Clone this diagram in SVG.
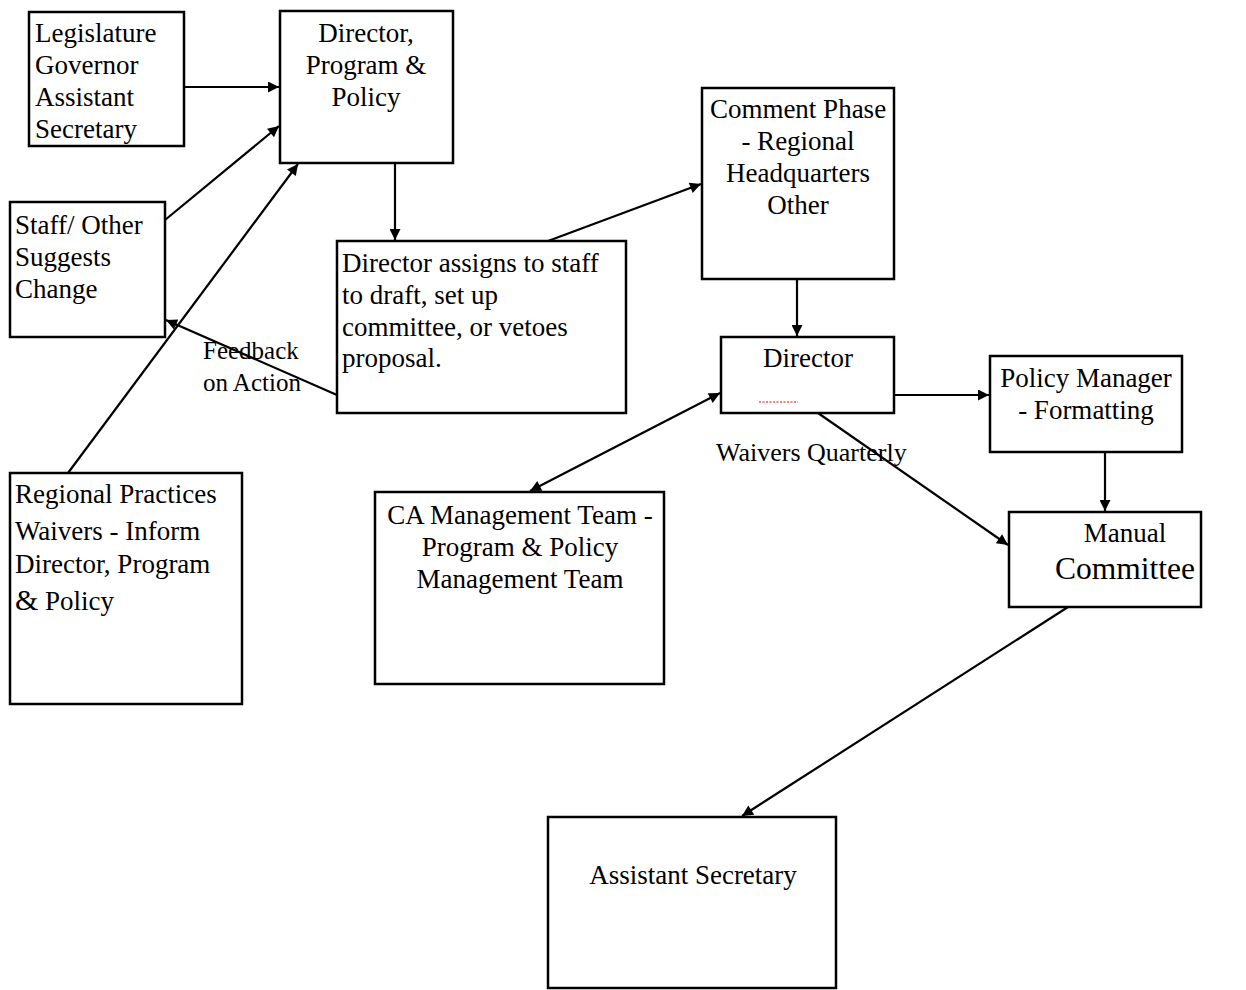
<svg xmlns="http://www.w3.org/2000/svg" width="1246" height="990" viewBox="0 0 1246 990">
<style>
.box{fill:#fff;stroke:#000;stroke-width:2.5}
.c{text-anchor:middle}
.ln{stroke:#000;stroke-width:2.2;fill:none}
</style>
<defs>
<marker id="ah" viewBox="0 0 10 10" refX="10" refY="5" markerWidth="13" markerHeight="11" orient="auto-start-reverse" markerUnits="userSpaceOnUse">
<path d="M0,0 L10,5 L0,10 z" fill="#000"/>
</marker>
</defs>
<rect width="1246" height="990" fill="#fff"/>
<g id="connectors">
<line class="ln" x1="184" y1="87" x2="279" y2="87" marker-end="url(#ah)"/>
<line class="ln" x1="165" y1="220" x2="279" y2="126" marker-end="url(#ah)"/>
<line class="ln" x1="68" y1="473" x2="298" y2="164" marker-end="url(#ah)"/>
<line class="ln" x1="395" y1="163" x2="395" y2="240" marker-end="url(#ah)"/>
<line class="ln" x1="548" y1="241" x2="701" y2="184" marker-end="url(#ah)"/>
<line class="ln" x1="337" y1="395" x2="166" y2="320" marker-end="url(#ah)"/>
<line class="ln" x1="797" y1="279" x2="797" y2="336" marker-end="url(#ah)"/>
<line class="ln" x1="720" y1="393" x2="530" y2="491" marker-start="url(#ah)" marker-end="url(#ah)"/>
<line class="ln" x1="894" y1="395" x2="989" y2="395" marker-end="url(#ah)"/>
<line class="ln" x1="1105" y1="452" x2="1105" y2="511" marker-end="url(#ah)"/>
<line class="ln" x1="818" y1="413" x2="1008" y2="545" marker-end="url(#ah)"/>
<line class="ln" x1="1068" y1="607" x2="742" y2="816" marker-end="url(#ah)"/>
</g>
<g font-family="Liberation Serif, Times New Roman, serif" font-size="27" fill="#000">
<g id="legislature">
<rect class="box" x="29" y="12" width="155" height="134"/>
<text x="35" y="42">Legislature</text>
<text x="35" y="74">Governor</text>
<text x="35" y="106">Assistant</text>
<text x="35" y="138">Secretary</text>
</g>
<g id="director-program-policy">
<rect class="box" x="280" y="11" width="173" height="152"/>
<text class="c" x="366" y="42">Director,</text>
<text class="c" x="366" y="74">Program &amp;</text>
<text class="c" x="366" y="106">Policy</text>
</g>
<g id="staff-other">
<rect class="box" x="10" y="202" width="155" height="135"/>
<text x="15" y="234">Staff/ Other</text>
<text x="15" y="266">Suggests</text>
<text x="15" y="298">Change</text>
</g>
<g id="director-assigns">
<rect class="box" x="337" y="241" width="289" height="172"/>
<text x="342" y="272">Director assigns to staff</text>
<text x="342" y="304">to draft, set up</text>
<text x="342" y="336">committee, or vetoes</text>
<text x="342" y="367">proposal.</text>
</g>
<g id="feedback-label">
<text x="203" y="359" font-size="25">Feedback</text>
<text x="203" y="391" font-size="25">on Action</text>
</g>
<g id="comment-phase">
<rect class="box" x="702" y="88" width="192" height="191"/>
<text class="c" x="798" y="118">Comment Phase</text>
<text class="c" x="798" y="150">- Regional</text>
<text class="c" x="798" y="182">Headquarters</text>
<text class="c" x="798" y="214">Other</text>
</g>
<g id="director">
<rect class="box" x="721" y="337" width="173" height="76"/>
<text class="c" x="808" y="367">Director</text>
<line x1="759" y1="402" x2="798" y2="402" stroke="#e00" stroke-width="1.2" stroke-dasharray="2,1.5"/>
</g>
<g id="waivers-label">
<text x="716" y="461" font-size="26">Waivers Quarterly</text>
</g>
<g id="policy-manager">
<rect class="box" x="990" y="356" width="192" height="96"/>
<text class="c" x="1086" y="387">Policy Manager</text>
<text class="c" x="1086" y="419">- Formatting</text>
</g>
<g id="manual-committee">
<rect class="box" x="1009" y="512" width="192" height="95"/>
<text class="c" x="1125" y="542">Manual</text>
<text class="c" x="1125" y="579" font-size="31.5">Committee</text>
</g>
<g id="ca-management">
<rect class="box" x="375" y="492" width="289" height="192"/>
<text class="c" x="520" y="524">CA Management Team -</text>
<text class="c" x="520" y="556">Program &amp; Policy</text>
<text class="c" x="520" y="588">Management Team</text>
</g>
<g id="regional-practices">
<rect class="box" x="10" y="473" width="232" height="231"/>
<text x="15" y="503">Regional Practices</text>
<text x="15" y="540">Waivers - Inform</text>
<text x="15" y="573">Director, Program</text>
<text x="15" y="610"><tspan font-size="30">&amp;</tspan> Policy</text>
</g>
<g id="assistant-secretary">
<rect class="box" x="548" y="817" width="288" height="171"/>
<text class="c" x="693" y="884">Assistant Secretary</text>
</g>
</g>
</svg>
